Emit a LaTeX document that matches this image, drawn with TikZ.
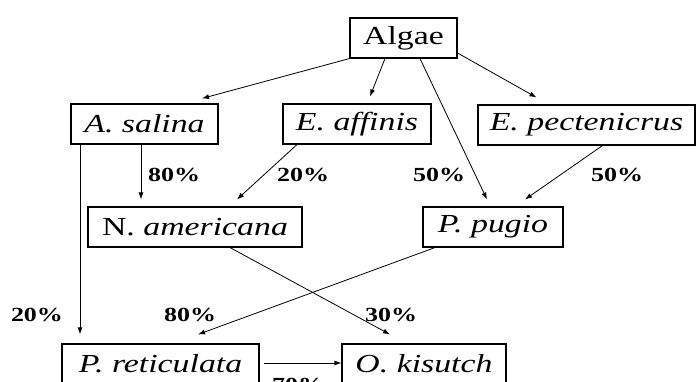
\documentclass[tikz,border=0pt]{standalone}
\usepackage{fontspec}
\setmainfont{Liberation Serif}
\usetikzlibrary{arrows.meta}
\tikzset{
  box/.style={draw=black, line width=1.1pt, minimum height=40pt, inner sep=0pt, font=\fontsize{26}{28}\selectfont},
  arr/.style={draw=black, line width=0.8pt, -{Latex[length=7pt,width=5pt]}},
  pct/.style={inner sep=0pt, font=\fontsize{20}{22}\selectfont\bfseries}
}
\newcommand{\wide}[1]{\scalebox{1.3}[1]{#1}}
\newcommand{\pwide}[1]{\scalebox{1.3}[1]{#1}}
\begin{document}
\begin{tikzpicture}[x=1pt,y=-1pt]
\useasboundingbox (0,0) rectangle (697,381);
\clip (0,0) rectangle (697,381);
\fill[white] (0,0) rectangle (697,381);
% nodes
\node[box, minimum width=107pt] (algae) at (403.5,38) {\wide{Algae}};
\node[box, minimum width=147pt] (asalina) at (144.5,124) {\wide{\textit{A. salina}}};
\node[box, minimum width=148pt] (eaffinis) at (357,124) {\wide{\textit{E. affinis}}};
\node[box, minimum width=217pt] (epect) at (586.5,125) {\wide{\textit{E. pectenicrus}}};
\node[box, minimum width=214pt] (namer) at (195,227) {\wide{N. \textit{americana}}};
\node[box, minimum width=140pt] (ppugio) at (493,227) {\wide{\textit{P. pugio}}};
\node[box, minimum width=197pt] (pret) at (160.5,364) {\wide{\textit{P. reticulata}}};
\node[box, minimum width=164pt] (okis) at (424,364) {\wide{\textit{O. kisutch}}};
% connectors
\draw[arr] (algae.south west) -- ([shift={(57.5,-5)}]asalina.north);
\draw[arr] ([shift={(-18.5,0)}]algae.south) -- ([shift={(13,-7)}]eaffinis.north);
\draw[arr] ([shift={(16.5,0)}]algae.south) -- ([shift={(-6,-7)}]ppugio.north);
\draw[arr] ([shift={(0,15)}]algae.east) -- ([shift={(-50,-7)}]epect.north);
\draw[arr] ([shift={(16,0)}]epect.south) -- ([shift={(32,-7)}]ppugio.north);
\draw[arr] ([shift={(-3.5,0)}]asalina.south) -- ([shift={(-54,-7)}]namer.north);
\draw[arr] ([shift={(-64.5,0)}]asalina.south) -- ([shift={(-80.5,-9)}]pret.north);
\draw[arr] ([shift={(-60,0)}]eaffinis.south) -- ([shift={(42,-7)}]namer.north);
\draw[arr] ([shift={(35,0)}]namer.south) -- ([shift={(-34,-9)}]okis.north);
\draw[arr] ([shift={(-58,0)}]ppugio.south) -- ([shift={(37.5,-9)}]pret.north);
\draw[arr] ([shift={(4,-1)}]pret.east) -- ([shift={(0,-1)}]okis.west);
% labels
\node[pct] (l1) at (174,175) {\pwide{80\%}};
\node[pct] (l2) at (303,175) {\pwide{20\%}};
\node[pct] (l3) at (439,175) {\pwide{50\%}};
\node[pct] (l4) at (617,175) {\pwide{50\%}};
\node[pct] (l5) at (37,315) {\pwide{20\%}};
\node[pct] (l6) at (190,315) {\pwide{80\%}};
\node[pct] (l7) at (391,315) {\pwide{30\%}};
\node[pct] (l8) at (298,385) {\pwide{70\%}};
\end{tikzpicture}
\end{document}
